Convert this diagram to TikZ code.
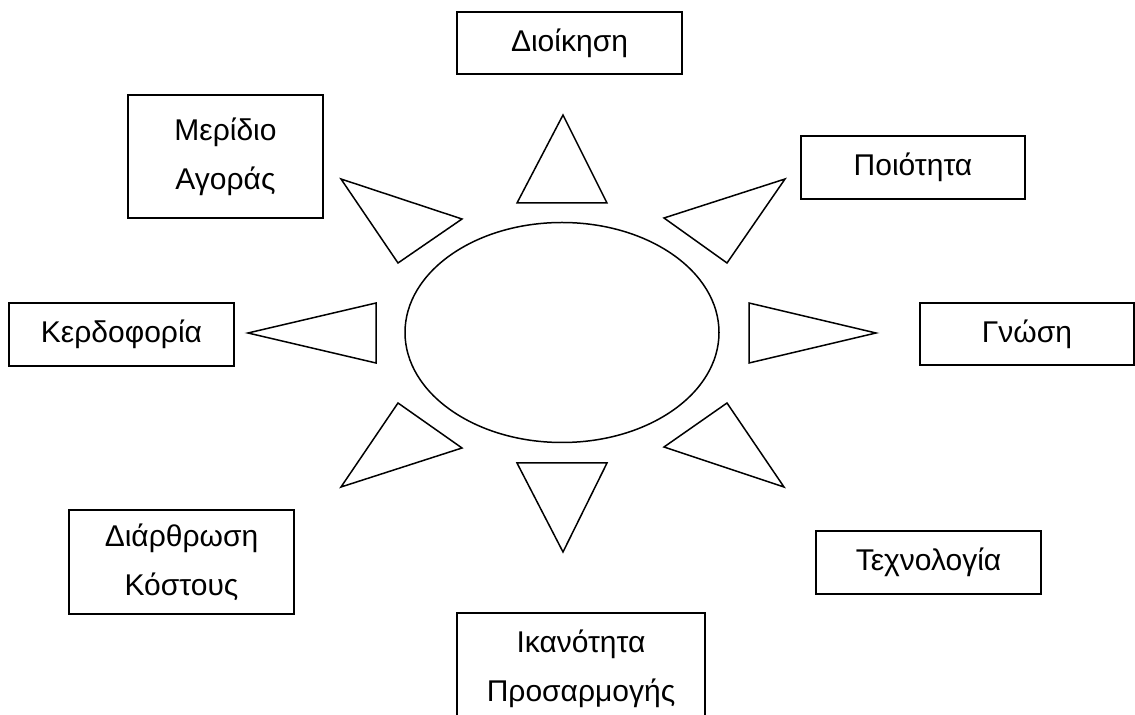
\documentclass[tikz,border=0pt]{standalone}
\usepackage{fontspec}
\setmainfont{Liberation Sans}
\usetikzlibrary{shapes.geometric}
\begin{document}
\begin{tikzpicture}[x=0.5pt,y=-0.5pt,
  box/.style={draw,line width=0.9pt,align=center,inner sep=0pt,
    font=\fontsize{15}{24.5}\selectfont},
  ray/.style={line width=0.75pt,line join=miter}]
\clip (0,0) rectangle (1135,715);
\fill[white] (0,0) rectangle (1135,715);
\node[draw,ellipse,line width=0.75pt,minimum width=157pt,minimum height=110pt,inner sep=0pt] (core) at (562,332.5) {};
\node[box,minimum width=112.5pt,minimum height=31pt] (dioikisi) at (569.5,43) {Διοίκηση};
\node[box,minimum width=97.5pt,minimum height=61.5pt] (meridio) at (225.5,156.5) {Μερίδιο\\Αγοράς};
\node[box,minimum width=112pt,minimum height=31.5pt] (poiotita) at (913,167.5) {Ποιότητα};
\node[box,minimum width=112.5pt,minimum height=31.5pt] (kerdoforia) at (121.5,334.5) {Κερδοφορία};
\node[box,minimum width=107pt,minimum height=31pt] (gnosi) at (1027,334) {Γνώση};
\node[box,minimum width=112.5pt,minimum height=52pt] (diarthrosi) at (181.5,562) {Διάρθρωση\\Κόστους};
\node[box,minimum width=112.5pt,minimum height=31.5pt] (texnologia) at (928.5,562.5) {Τεχνολογία};
\node[box,minimum width=124pt,minimum height=56pt] (ikanotita) at (581,669) {Ικανότητα\\Προσαρμογής};
\draw[ray] (563,115) -- (607,203) -- (517,203) -- cycle;
\draw[ray] (341,179) -- (462,219) -- (398,263) -- cycle;
\draw[ray] (785,179) -- (664,218) -- (727,263) -- cycle;
\draw[ray] (749,303) -- (876,333) -- (749,363) -- cycle;
\draw[ray] (376,303) -- (248,333) -- (376,363) -- cycle;
\draw[ray] (398,403) -- (462,448) -- (341,487) -- cycle;
\draw[ray] (727,403) -- (664,447) -- (784,487) -- cycle;
\draw[ray] (517,463) -- (607,463) -- (563,552) -- cycle;
\end{tikzpicture}
\end{document}
